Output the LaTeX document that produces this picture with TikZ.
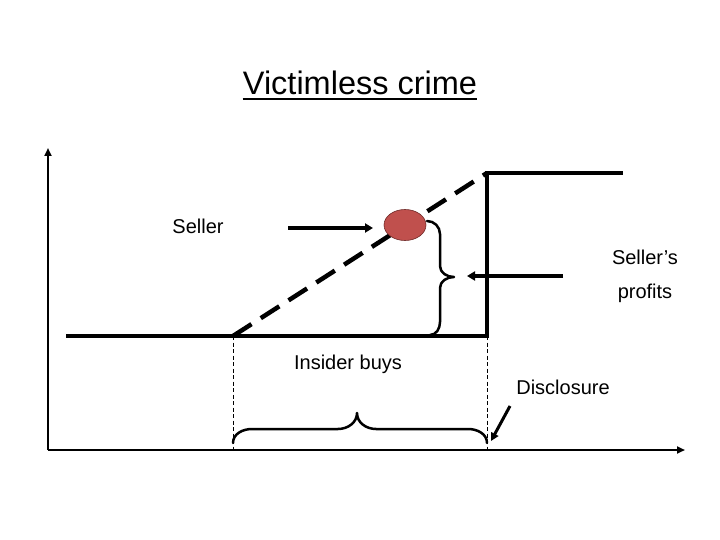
\documentclass[tikz,border=0pt]{standalone}
\usepackage{fontspec}
\setmainfont{Liberation Sans}
\usetikzlibrary{arrows.meta,shapes.geometric}
\definecolor{dotred}{RGB}{192,80,77}
\definecolor{dotedge}{RGB}{110,40,38}
\begin{document}
\begin{tikzpicture}[x=1pt,y=-1pt,
  lbl/.style={inner sep=0pt,font=\fontsize{20}{24}\selectfont},
  thickline/.style={line width=4pt},
  arr/.style={line width=3.5pt,-{Triangle[length=8pt,width=9pt]}},
  bracestyle/.style={line width=2.5pt,line cap=round},
  guide/.style={line width=0.8pt,dash pattern=on 4pt off 2.5pt},
  axis/.style={line width=2.6pt,-{Triangle[length=8pt,width=7pt]}}]
\useasboundingbox (0,0) rectangle (720,540);
% coordinates
\coordinate (origin) at (48,450);
\coordinate (ytop) at (48,148);
\coordinate (xend) at (685,450);
\coordinate (b0) at (66,336);
\coordinate (bs) at (233,336);
\coordinate (bd) at (487,336);
\coordinate (td) at (487,173);
\coordinate (te) at (623,173);
\coordinate (gs) at (233,450);
\coordinate (gd) at (487,450);
% title
\node[anchor=base,inner sep=0pt,font=\fontsize{32.5}{36}\selectfont] (title) at (360,95) {Victimless crime};
\draw[line width=2.7pt] ([yshift=-4pt]title.base west) -- ([yshift=-4pt]title.base east);
% axes
\draw[axis] (origin) -- (ytop);
\draw[axis] (origin) -- (xend);
% guides
\draw[guide] (bs) -- (gs);
\draw[guide] (bd) -- (gd);
% price path
\draw[thickline,miter limit=10] (b0) -- (bd) -- (td) -- (te);
\draw[line width=4.5pt,dash pattern=on 22pt off 11pt] (bs) -- (td);
% red dot
\node[ellipse,draw=dotedge,line width=0.6pt,fill=dotred,minimum width=42pt,minimum height=31pt,inner sep=0pt] (dot) at (405,225) {};
% labels
\node[lbl] (seller) at (198,226) {Seller};
\node[lbl] (sellers) at (645,257) {Seller’s};
\node[lbl] (profits) at (645,293) {profits};
\node[lbl] (insider) at (348,364) {Insider buys};
\node[lbl] (discl) at (563,387) {Disclosure};
% right brace
\coordinate (rbtop) at (427,221);
\coordinate (rbtip) at (454,277);
\coordinate (rbbot) at (430,335);
\draw[bracestyle] (rbtop) to[out=0,in=90] (440,234) -- (440,266) to[out=-90,in=180] (rbtip)
  (rbtip) to[out=180,in=90] (440,288) -- (440,322) to[out=-90,in=0] (rbbot);
% bottom brace
\coordinate (lbl1) at (233,443);
\coordinate (lbtip) at (357,413);
\coordinate (lbr) at (487,443);
\draw[bracestyle] (lbl1) to[out=90,in=180] (252,429) -- (338,429) to[out=0,in=-90] (lbtip)
  (lbtip) to[out=-90,in=180] (376,429) -- (468,429) to[out=0,in=90] (lbr);
% arrows
\coordinate (sa) at (288,228);
\coordinate (sb) at (373,228);
\draw[arr] (sa) -- (sb);
\coordinate (pa) at (563,276);
\coordinate (pb) at (467,276);
\draw[arr] (pa) -- (pb);
\coordinate (da) at (510,406);
\coordinate (db) at (491,441);
\draw[line width=3pt,-{Triangle[length=8pt,width=8pt]}] (da) -- (db);
\end{tikzpicture}
\end{document}
